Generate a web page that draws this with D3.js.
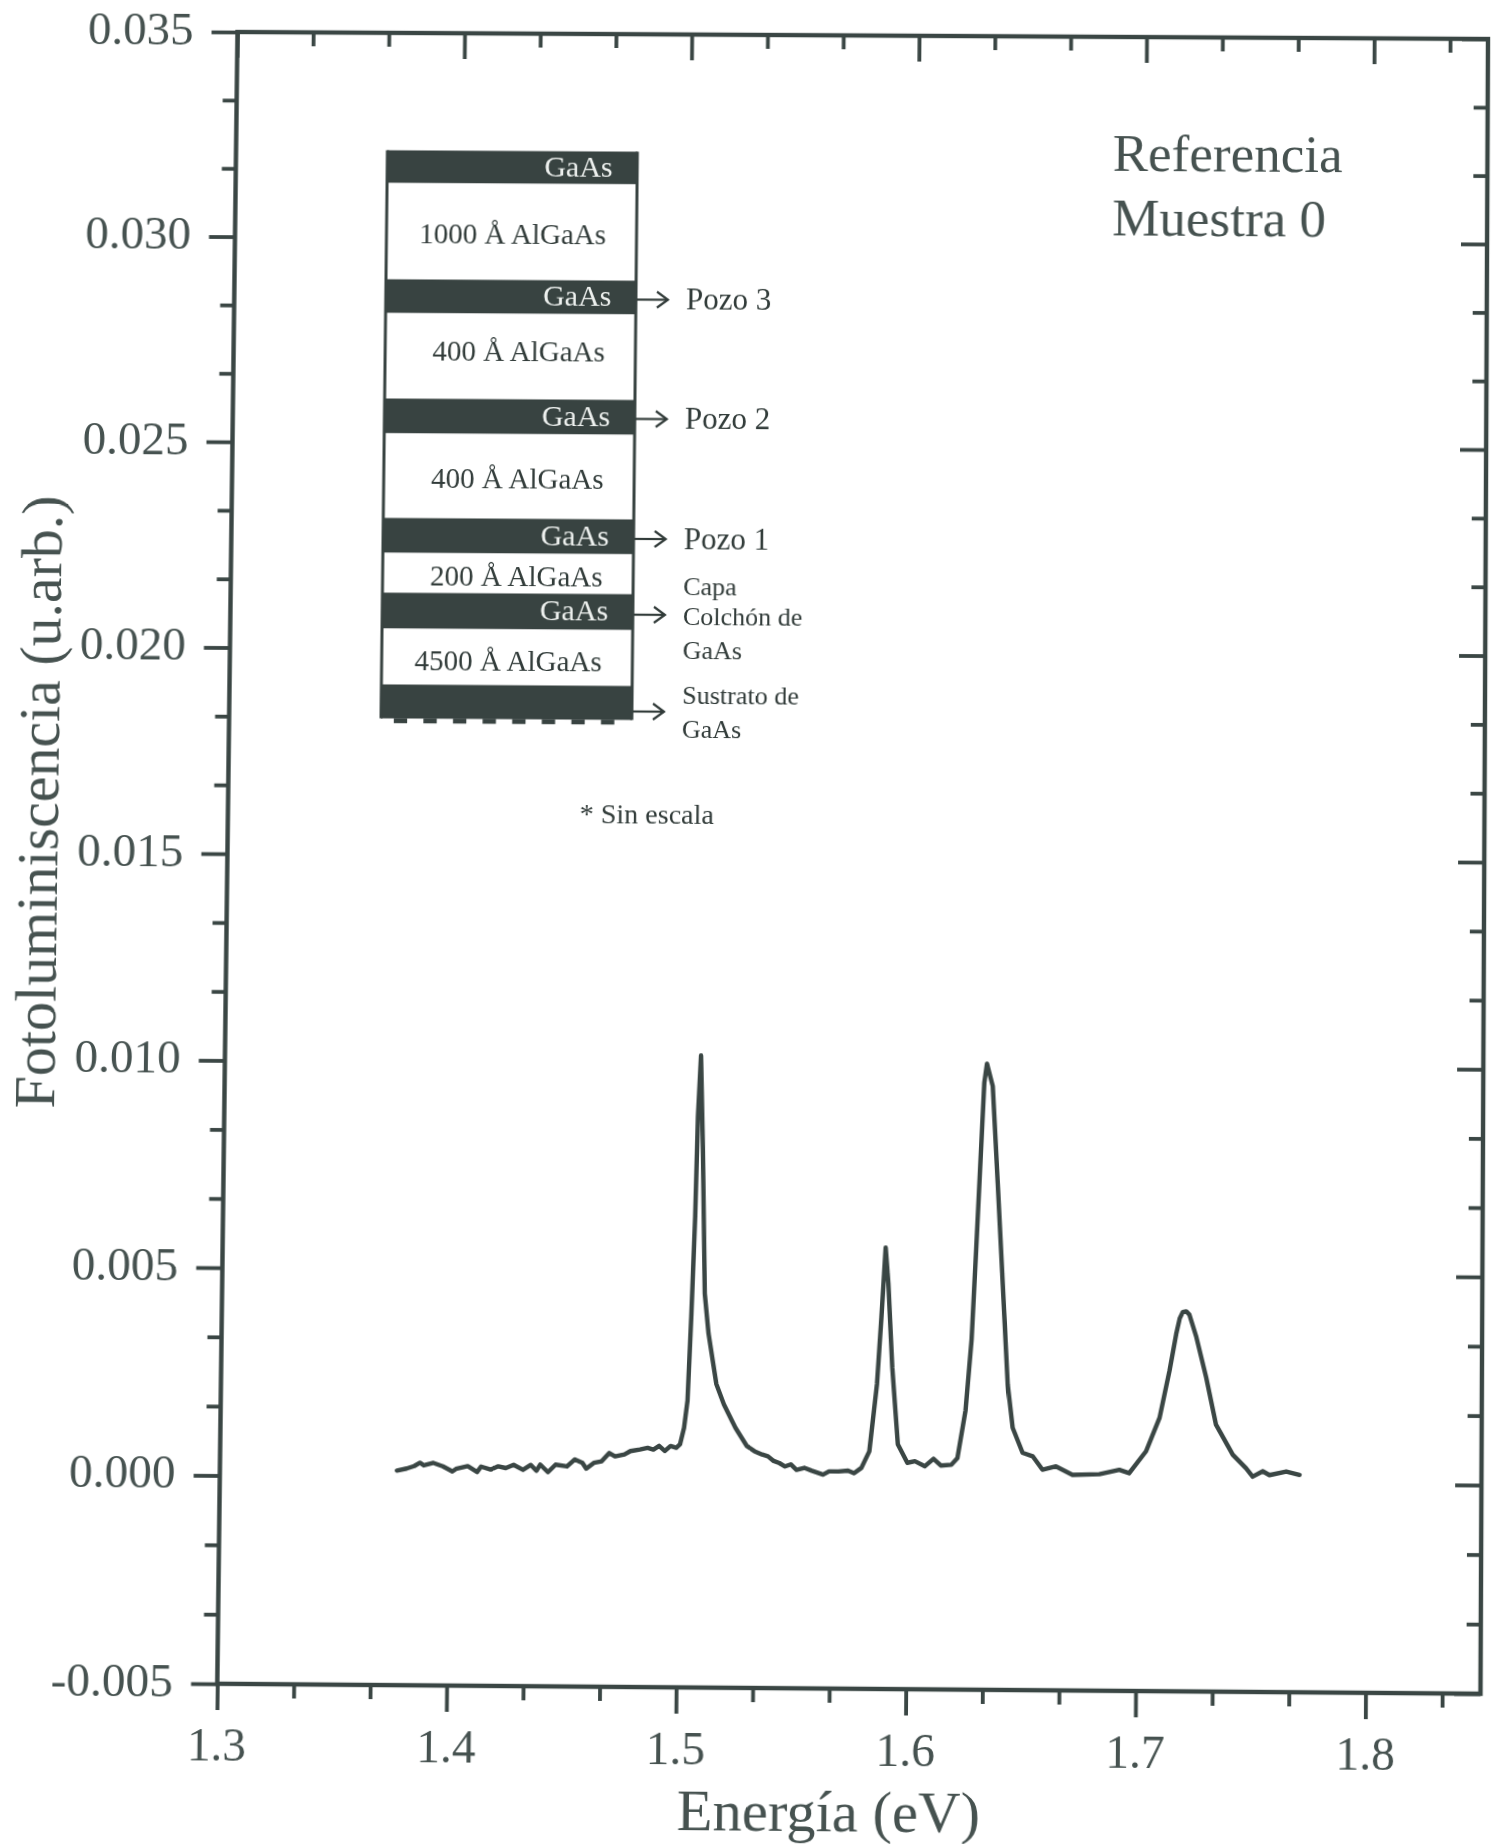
<!DOCTYPE html>
<html>
<head>
<meta charset="utf-8">
<script src="https://cdn.jsdelivr.net/npm/d3@7"></script>
<style>
  html, body { margin: 0; padding: 0; background: #ffffff; overflow: hidden; }
  #chart { position: absolute; left: 0; top: 0; transform-origin: 0 0; }
  #chart text { font-family: "Liberation Serif", "Times New Roman", serif; }
</style>
</head>
<body>
<svg id="chart" width="1502" height="1844"></svg>
<script>
// Photoluminescence spectrum, sample 0
const energy = [
  1.3773, 1.3815, 1.3848, 1.3873, 1.3890, 1.3932, 1.3973, 1.4015, 1.4031, 1.4082,
  1.4123, 1.4140, 1.4182, 1.4215, 1.4248, 1.4282, 1.4323, 1.4357, 1.4382, 1.4398,
  1.4432, 1.4465, 1.4515, 1.4549, 1.4582, 1.4599, 1.4632, 1.4666, 1.4699, 1.4724,
  1.4765, 1.4791, 1.4832, 1.4866, 1.4891, 1.4916, 1.4941, 1.4966, 1.4991, 1.5007,
  1.5024, 1.5038, 1.5051, 1.5064, 1.5072, 1.5083, 1.5095, 1.5109, 1.5127, 1.5163,
  1.5197, 1.5248, 1.5299, 1.5332, 1.5366, 1.5391, 1.5416, 1.5441, 1.5466, 1.5491,
  1.5516, 1.5550, 1.5583, 1.5632, 1.5658, 1.5699, 1.5741, 1.5767, 1.5799, 1.5833,
  1.5864, 1.5881, 1.5897, 1.5910, 1.5930, 1.5957, 1.5999, 1.6032, 1.6075, 1.6113,
  1.6145, 1.6191, 1.6217, 1.6251, 1.6275, 1.6292, 1.6310, 1.6322, 1.6333, 1.6359,
  1.6384, 1.6409, 1.6434, 1.6457, 1.6501, 1.6545, 1.6588, 1.6647, 1.6719, 1.6836,
  1.6923, 1.6966, 1.7039, 1.7097, 1.7139, 1.7167, 1.7182, 1.7195, 1.7210, 1.7224,
  1.7255, 1.7299, 1.7343, 1.7417, 1.7475, 1.7504, 1.7548, 1.7577, 1.7650, 1.7708
];
const intensity = [
  0.00015, 0.00020, 0.00026, 0.00034, 0.00028, 0.00034, 0.00026, 0.00014, 0.00020, 0.00027,
  0.00013, 0.00026, 0.00019, 0.00027, 0.00023, 0.00031, 0.00019, 0.00031, 0.00017, 0.00032,
  0.00014, 0.00032, 0.00028, 0.00045, 0.00037, 0.00023, 0.00037, 0.00041, 0.00061, 0.00053,
  0.00058, 0.00066, 0.00070, 0.00074, 0.00070, 0.00079, 0.00067, 0.00079, 0.00075, 0.00083,
  0.00123, 0.00188, 0.00390, 0.00632, 0.00874, 0.01020, 0.00793, 0.00446, 0.00350, 0.00229,
  0.00180, 0.00124, 0.00080, 0.00068, 0.00060, 0.00056, 0.00045, 0.00040, 0.00032, 0.00037,
  0.00024, 0.00029, 0.00022, 0.00013, 0.00021, 0.00021, 0.00023, 0.00017, 0.00030, 0.00070,
  0.00232, 0.00393, 0.00560, 0.00474, 0.00272, 0.00087, 0.00043, 0.00047, 0.00035, 0.00053,
  0.00037, 0.00039, 0.00055, 0.00170, 0.00340, 0.00557, 0.00799, 0.00959, 0.01005, 0.00951,
  0.00717, 0.00475, 0.00233, 0.00129, 0.00069, 0.00061, 0.00029, 0.00037, 0.00017, 0.00019,
  0.00030, 0.00022, 0.00075, 0.00156, 0.00269, 0.00357, 0.00395, 0.00410, 0.00412, 0.00404,
  0.00350, 0.00253, 0.00140, 0.00068, 0.00036, 0.00016, 0.00029, 0.00020, 0.00029, 0.00021
];

const xTickValues = [1.3, 1.4, 1.5, 1.6, 1.7, 1.8];
const xTickLabels = ["1.3", "1.4", "1.5", "1.6", "1.7", "1.8"];
const yTickValues = [-0.005, 0.000, 0.005, 0.010, 0.015, 0.020, 0.025, 0.030, 0.035];
const yTickLabels = ["-0.005", "0.000", "0.005", "0.010", "0.015", "0.020", "0.025", "0.030", "0.035"];

const xTitle = "Energía (eV)";
const yTitle = "Fotoluminiscencia (u.arb.)";
const sampleLines = ["Referencia", "Muestra 0"];

// Layer stack of the sample, top to bottom
const layerLabels = ["GaAs", "1000 Å AlGaAs", "GaAs", "400 Å AlGaAs", "GaAs", "400 Å AlGaAs",
                     "GaAs", "200 Å AlGaAs", "GaAs", "4500 Å AlGaAs", ""];
const layerKinds = ["pozo", "barrera", "pozo", "barrera", "pozo", "barrera",
                    "pozo", "barrera", "pozo", "barrera", "sustrato"];
const calloutLayers = [2, 4, 6, 8, 10];
const calloutTexts = [["Pozo 3"], ["Pozo 2"], ["Pozo 1"], ["Capa", "Colchón de", "GaAs"], ["Sustrato de", "GaAs"]];
const noteText = "* Sin escala";

// ---------- layout ----------
const X0 = 237.5, Y0 = 32, W = 1250.5, H = 1652;
const ink = "#3a4644";
const textInk = "#465250";

const svg = d3.select("#chart");

const x = d3.scaleLinear().domain([1.3, 1.85]).range([X0, X0 + W]);
const y = d3.scaleLinear().domain([-0.005, 0.035]).range([Y0 + H, Y0]);

const xMinor = d3.range(0, 17).map(i => 1.3 + i * 0.1 / 3).filter((d, i) => i % 3 !== 0);
const yMinor = d3.range(0, 25).map(i => -0.005 + i * 0.005 / 3).filter((d, i) => i % 3 !== 0);

const MAJ = 26, MIN = 14;

function styleTicks(g) {
  g.select(".domain").remove();
  g.selectAll(".tick line").attr("stroke", ink).attr("stroke-width", 3.8);
  g.selectAll(".tick text").remove();
}

// outward ticks on bottom/left, inward on top/right
const axes = svg.append("g");
axes.append("g").attr("transform", `translate(0,${Y0 + H})`)
  .call(d3.axisBottom(x).tickValues(xTickValues).tickSize(MAJ)).call(styleTicks);
axes.append("g").attr("transform", `translate(0,${Y0 + H})`)
  .call(d3.axisBottom(x).tickValues(xMinor).tickSize(MIN)).call(styleTicks);
axes.append("g").attr("transform", `translate(0,${Y0})`)
  .call(d3.axisTop(x).tickValues(xTickValues).tickSize(-MAJ)).call(styleTicks);
axes.append("g").attr("transform", `translate(0,${Y0})`)
  .call(d3.axisTop(x).tickValues(xMinor).tickSize(-MIN)).call(styleTicks);
axes.append("g").attr("transform", `translate(${X0},0)`)
  .call(d3.axisLeft(y).tickValues(yTickValues).tickSize(MAJ)).call(styleTicks);
axes.append("g").attr("transform", `translate(${X0},0)`)
  .call(d3.axisLeft(y).tickValues(yMinor).tickSize(MIN)).call(styleTicks);
axes.append("g").attr("transform", `translate(${X0 + W},0)`)
  .call(d3.axisRight(y).tickValues(yTickValues).tickSize(-MAJ)).call(styleTicks);
axes.append("g").attr("transform", `translate(${X0 + W},0)`)
  .call(d3.axisRight(y).tickValues(yMinor).tickSize(-MIN)).call(styleTicks);

// plot frame
svg.append("rect")
  .attr("x", X0).attr("y", Y0).attr("width", W).attr("height", H)
  .attr("fill", "none").attr("stroke", ink).attr("stroke-width", 4.4);

// tick labels
svg.append("g").selectAll("text").data(yTickValues).join("text")
  .attr("x", X0 - 44).attr("y", d => y(d) + 13)
  .attr("text-anchor", "end").attr("font-size", 47).attr("fill", textInk)
  .text((d, i) => yTickLabels[i]);

svg.append("g").selectAll("text").data(xTickValues).join("text")
  .attr("x", d => x(d)).attr("y", Y0 + H + 76)
  .attr("text-anchor", "middle").attr("font-size", 47).attr("fill", textInk)
  .text((d, i) => xTickLabels[i]);

// axis titles
svg.append("text")
  .attr("x", 844).attr("y", 1825)
  .attr("text-anchor", "middle").attr("font-size", 58).attr("fill", textInk)
  .text(xTitle);

svg.append("text")
  .attr("transform", "translate(68,807) rotate(-90)")
  .attr("text-anchor", "middle").attr("font-size", 58).attr("fill", textInk)
  .text(yTitle);

// sample name
svg.append("g").selectAll("text").data(sampleLines).join("text")
  .attr("x", 1114).attr("y", (d, i) => 167 + i * 65)
  .attr("font-size", 53).attr("fill", textInk)
  .text(d => d);

// spectrum
const line = d3.line().x(d => x(d[0])).y(d => y(d[1]));
svg.append("path")
  .datum(d3.zip(energy, intensity))
  .attr("d", line)
  .attr("fill", "none").attr("stroke", ink).attr("stroke-width", 4.4)
  .attr("stroke-linejoin", "round").attr("stroke-linecap", "round");

// ---------- layer stack diagram ----------
const stackLeft = 389, stackRight = 639, stackTop = 150.5;
const layerPx = [33, 97, 34, 86, 35, 85, 35, 40, 36, 56, 34];
const labelShift = [9, 12.5, 9, 4.5, 9, 12, 9, 13, 9, 14, 0];
const tops = [];
layerPx.reduce((acc, h) => { tops.push(acc); return acc + h; }, stackTop);
const dark = "#384341";

const stack = svg.append("g");
stack.selectAll("rect").data(layerKinds).join("rect")
  .attr("x", stackLeft).attr("y", (d, i) => tops[i])
  .attr("width", stackRight - stackLeft).attr("height", (d, i) => layerPx[i])
  .attr("fill", d => d === "barrera" ? "#ffffff" : dark);

// side borders of the stack
[stackLeft, stackRight].forEach(sx => {
  stack.append("line")
    .attr("x1", sx).attr("x2", sx)
    .attr("y1", stackTop).attr("y2", tops[10] + layerPx[10])
    .attr("stroke", dark).attr("stroke-width", 3);
});

// rough bottom edge of the substrate
const subBottom = tops[10] + layerPx[10];
stack.append("line")
  .attr("x1", 401.8).attr("x2", stackRight - 15)
  .attr("y1", subBottom + 2.2).attr("y2", subBottom + 2.2)
  .attr("stroke", dark).attr("stroke-width", 5)
  .attr("stroke-dasharray", "13.3 16.2");

stack.selectAll("text.layer").data(layerLabels).join("text")
  .attr("class", "layer")
  .attr("x", (d, i) => layerKinds[i] === "pozo" ? 614.5 : 608.5)
  .attr("y", (d, i) => tops[i] + layerPx[i] / 2 + labelShift[i])
  .attr("text-anchor", "end")
  .attr("font-size", (d, i) => layerKinds[i] === "pozo" ? 30 : 29)
  .attr("fill", (d, i) => layerKinds[i] === "pozo" ? "#eef1ef" : "#323c3a")
  .text(d => d);

// callout arrows and labels
const arrowShift = [2, 1.5, 2, 2.5, 8.5];
const lineOffsets = [[10], [10], [10], [-20, 10, 44], [-8, 26]];
calloutLayers.forEach((li, k) => {
  const ay = tops[li] + layerPx[li] / 2 + arrowShift[k];
  const g = stack.append("g");
  g.append("line")
    .attr("x1", stackRight + 1).attr("x2", 671).attr("y1", ay).attr("y2", ay)
    .attr("stroke", "#323c3a").attr("stroke-width", 2.2);
  g.append("path")
    .attr("d", `M${660},${ay - 8} L${671},${ay} L${660},${ay + 8}`)
    .attr("fill", "none").attr("stroke", "#323c3a").attr("stroke-width", 2.2);
  const big = calloutTexts[k].length === 1;
  g.selectAll("text").data(calloutTexts[k]).join("text")
    .attr("x", 689).attr("y", (d, j) => ay + lineOffsets[k][j])
    .attr("font-size", big ? 31 : 26).attr("fill", "#323c3a")
    .text(d => d);
});

stack.append("text")
  .attr("x", 588).attr("y", 825.5)
  .attr("font-size", 28).attr("fill", "#323c3a")
  .text(noteText);

// ---------- sheet skew ----------
// The printed sheet sits slightly out of square; the plot frame corners land on these points.
const frameCorners = [[237.5, 32], [1488, 39], [1480.7, 1694], [217.3, 1684]];
function frameWarp(fx, fy, fw, fh, q) {
  const [[x0, y0], [x1, y1], [x2, y2], [x3, y3]] = q;
  const dx1 = x1 - x2, dx2 = x3 - x2, dx3 = x0 - x1 + x2 - x3;
  const dy1 = y1 - y2, dy2 = y3 - y2, dy3 = y0 - y1 + y2 - y3;
  const den = dx1 * dy2 - dx2 * dy1;
  const g = (dx3 * dy2 - dx2 * dy3) / den;
  const h = (dx1 * dy3 - dx3 * dy1) / den;
  const a = x1 - x0 + g * x1, b = x3 - x0 + h * x3, c = x0;
  const d = y1 - y0 + g * y1, e = y3 - y0 + h * y3, f = y0;
  const m00 = a / fw, m01 = b / fh, m02 = c - a * fx / fw - b * fy / fh;
  const m10 = d / fw, m11 = e / fh, m12 = f - d * fx / fw - e * fy / fh;
  const m20 = g / fw, m21 = h / fh, m22 = 1 - g * fx / fw - h * fy / fh;
  return `matrix3d(${m00},${m10},0,${m20},${m01},${m11},0,${m21},0,0,1,0,${m02},${m12},0,${m22})`;
}
document.getElementById("chart").style.transform = frameWarp(X0, Y0, W, H, frameCorners);
</script>
</body>
</html>
